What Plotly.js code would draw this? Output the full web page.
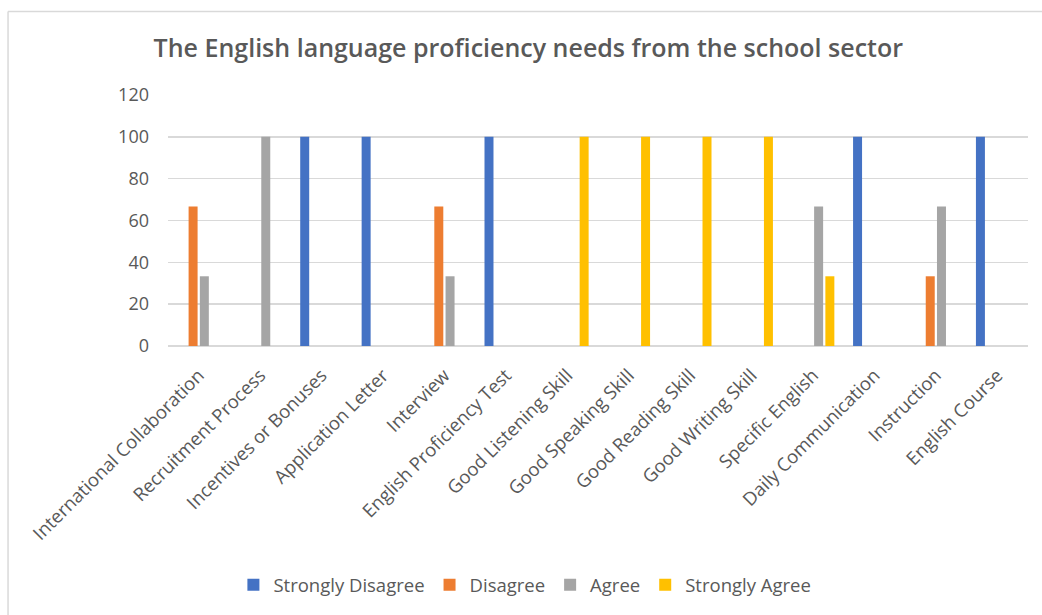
<!DOCTYPE html>
<html>
<head>
<meta charset="utf-8">
<script src="https://cdn.plot.ly/plotly-3.0.1.min.js"></script>
<style>
html,body{margin:0;padding:0;background:#fff;}
#chart{width:1042px;height:615px;}
</style>
</head>
<body>
<div id="chart"></div>
<script>
var categories = ["International Collaboration","Recruitment Process","Incentives or Bonuses","Application Letter","Interview","English Proficiency Test","Good Listening Skill","Good Speaking Skill","Good Reading Skill","Good Writing Skill","Specific English","Daily Communication","Instruction","English Course"];
var seriesNames = ["Strongly Disagree","Disagree","Agree","Strongly Agree"];
var stronglyDisagree = [0,0,100,100,0,100,0,0,0,0,0,100,0,100];
var disagree = [66.67,0,0,0,66.67,0,0,0,0,0,0,0,33.33,0];
var agree = [33.33,100,0,0,33.33,0,0,0,0,0,66.67,0,66.67,0];
var stronglyAgree = [0,0,0,0,0,0,100,100,100,100,33.33,0,0,0];
var yTicks = [0,20,40,60,80,100,120];

var colors = ["#4472C4","#ED7D31","#A5A5A5","#FFC000"];
var values = [stronglyDisagree, disagree, agree, stronglyAgree];
var font = "Open Sans, Noto Sans, sans-serif";

var data = values.map(function(v,i){
  return {type:"bar", name:seriesNames[i], x:categories, y:v,
    marker:{color:colors[i]}, hoverinfo:"x+y+name"};
});

var layout = {
  width:1042, height:615,
  margin:{l:168, r:14, t:95, b:268},
  paper_bgcolor:"#fff", plot_bgcolor:"#fff",
  barmode:"group", bargap:0.268, bargroupgap:0.2,
  font:{family:font, color:"#595959", size:18},
  title:{text:"The English language proficiency needs from the school sector",
    font:{family:font, size:25, color:"#595959", weight:600},
    xref:"container", x:0.507, xanchor:"center", yref:"container", y:0.922, yanchor:"middle"},
  xaxis:{type:"category", tickangle:-45, showgrid:false, showline:false, zeroline:false,
    ticks:"", ticklabelstandoff:14, tickfont:{family:font, size:18.5, color:"#595959"}, automargin:false},
  yaxis:{range:[0,120], tickvals:yTicks, showgrid:true, gridcolor:"#D9D9D9", gridwidth:1.5,
    zeroline:true, zerolinecolor:"#D9D9D9", zerolinewidth:1.5, showline:false, ticks:"",
    ticklabelstandoff:18, tickfont:{family:font, size:18, color:"#595959"}, automargin:false},
  legend:{orientation:"h", x:0.415, xanchor:"center", y:-0.945, yanchor:"middle",
    font:{family:font, size:18.5, color:"#595959"}, itemclick:false, traceorder:"normal", itemwidth:30},
  shapes:[
    {type:"line", xref:"paper", yref:"paper", x0:-0.186, x1:1.02, y0:1.333, y1:1.333, line:{color:"#D9D9D9", width:1.5}},
    {type:"line", xref:"paper", yref:"paper", x0:-0.186, x1:-0.186, y0:1.333, y1:-1.1, line:{color:"#D9D9D9", width:1.5}}
  ]
};

Plotly.newPlot("chart", data, layout, {displayModeBar:false, staticPlot:true});
</script>
</body>
</html>
